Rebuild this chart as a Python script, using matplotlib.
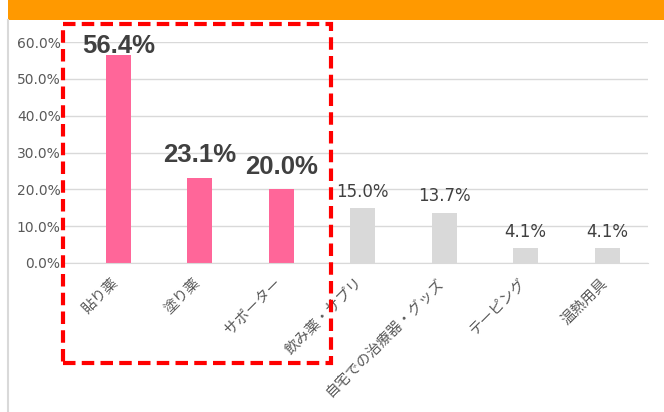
import matplotlib
matplotlib.use('Agg')
import matplotlib.pyplot as plt
import matplotlib.transforms as mtrans
from matplotlib.patches import Rectangle

plt.rcParams['font.family'] = ['Noto Sans CJK JP', 'DejaVu Sans']

# data
categories = ['貼り薬', '塗り薬', 'サポーター', '飲み薬・サプリ', '自宅での治療器・グッズ', 'テーピング', '温熱用具']
values = [56.4, 23.1, 20.0, 15.0, 13.7, 4.1, 4.1]
highlight = [True, True, True, False, False, False, False]

W, H = 664, 412
fig = plt.figure(figsize=(W / 100, H / 100), dpi=100)

# orange banner and left border
fig.patches.append(Rectangle((8 / W, 1 - 20 / H), 1, 20 / H, transform=fig.transFigure,
                             facecolor='#FF9900', edgecolor='none', zorder=0))
fig.lines.append(plt.Line2D([8 / W, 8 / W], [0, 1 - 20 / H], transform=fig.transFigure,
                            color='#D9D9D9', lw=1.5))

ax = fig.add_axes([62 / W, 1 - 263 / H, (648 - 62) / W, (263 - 42) / H])
x = list(range(len(categories)))
colors = ['#FF6699' if h else '#D9D9D9' for h in highlight]
ax.bar(x, values, width=0.31, color=colors, zorder=2)

ax.set_ylim(0, 60)
ax.set_xlim(-0.69, 6.5)
ax.set_yticks(range(0, 61, 10))
ax.set_yticklabels([f'{v:.1f}%' for v in range(0, 61, 10)], color='#595959', fontsize=10,
                   family='DejaVu Sans')
ax.yaxis.grid(True, color='#D9D9D9', lw=1, zorder=0)
ax.tick_params(length=0, pad=1)
for s in ['top', 'right', 'left']:
    ax.spines[s].set_visible(False)
ax.spines['bottom'].set_color('#D9D9D9')

ax.set_xticks(x)
ax.set_xticklabels(categories, rotation=45, ha='right', va='top', rotation_mode='anchor',
                   color='#595959', fontsize=10.5)
ax.tick_params(axis='x', pad=9)
shift = mtrans.ScaledTranslation(-7 / 100, 0, fig.dpi_scale_trans)
for lbl in ax.get_xticklabels():
    lbl.set_transform(lbl.get_transform() + shift)

for xi, v, h in zip(x, values, highlight):
    if h:
        ax.text(xi, min(v + 4.2, 57), f'{v:.1f}%', ha='center', va='baseline', fontsize=18.5,
                fontweight='bold', color='#404040', family='Liberation Sans', clip_on=False)
    else:
        ax.text(xi, v + 3.0, f'{v:.1f}%', ha='center', va='baseline', fontsize=12,
                color='#404040', family='DejaVu Sans')

# red dashed highlight box
fig.patches.append(Rectangle((63 / W, 1 - 363 / H), (331 - 63) / W, (363 - 24) / H,
                             transform=fig.transFigure, fill=False, edgecolor='#FF0000',
                             lw=3, linestyle=(0, (3, 1.5)), zorder=5))

fig.savefig('out.png', dpi=100)
